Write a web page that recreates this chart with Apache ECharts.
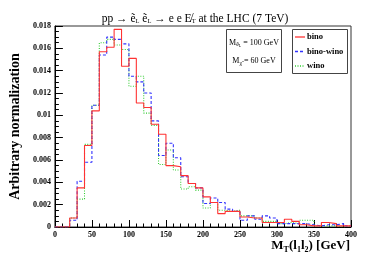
<!DOCTYPE html>
<html><head><meta charset="utf-8">
<script src="https://cdn.jsdelivr.net/npm/echarts@6/dist/echarts.min.js"></script>
<style>html,body{margin:0;padding:0;background:#fff}#c{width:390px;height:265px}</style>
</head><body><div id="c"></div>
<script>
var binLow = [0,10,20,30,40,50,60,70,80,90,100,110,120,130,140,150,160,170,180,190,200,210,220,230,240,250,260,270,280,290,300,310,320,330,340,350,360,370,380,390];
var binHighEnd = 400;
var bino = [0,0,0.0008,0.0035,0.0073,0.0104,0.0157,0.0161,0.0177,0.0144,0.0151,0.0111,0.0107,0.0092,0.0083,0.0055,0.0054,0.0046,0.0039,0.0035,0.0027,0.0022,0.0012,0.0014,0.0014,0.0009,0.0008,0.0008,0.0004,0.0004,0.0004,0.0007,0.0005,0.0002,0.0001,0.0001,0.0004,0.0003,0.0001,0.0001];
var binoWino = [0,0,0.0006,0.0041,0.0058,0.0109,0.0154,0.0170,0.0168,0.0164,0.0135,0.0130,0.0120,0.0095,0.0064,0.0075,0.0062,0.0045,0.0039,0.0035,0.0021,0.0026,0.0022,0.0016,0.0014,0.0006,0.0010,0.0007,0.0010,0.0008,0.0003,0.0003,0.0003,0.0003,0.0002,0.0001,0.0002,0.0002,0.0003,0.0001];
var wino = [0,0,0.0008,0.0025,0.0074,0.0109,0.0165,0.0168,0.0163,0.0159,0.0126,0.0135,0.0102,0.0091,0.0056,0.0069,0.0051,0.0034,0.0036,0.0033,0.0017,0.0022,0.0015,0.0014,0.0015,0.0010,0.0010,0.0008,0.0005,0.0005,0.0003,0.0004,0.0003,0.0006,0.0006,0.0001,0.0001,0.0001,0.0000,0.0001];
var seriesNames = ['bino','bino-wino','wino'];
var seriesColors = ['#ff3333','#3333ff','#33cc33'];
var seriesDash = ['solid',[3,2],[1,1.5]];
var xTicks = [0,50,100,150,200,250,300,350,400];
var yTicks = ['0','0.002','0.004','0.006','0.008','0.01','0.012','0.014','0.016','0.018'];

function histData(vals){
  var d = [];
  for (var i=0;i<binLow.length;i++) d.push([binLow[i], vals[i]]);
  d.push([binHighEnd, vals[vals.length-1]]);
  return d;
}
var serif = '"Liberation Serif","DejaVu Serif",serif';
var graphics = [
  {type:'rect',shape:{x:226.5,y:29.5,width:55,height:43},style:{fill:'#fff',stroke:'#444',lineWidth:1},z:10},
  {type:'text',x:254,y:37,z:11,style:{text:'M{s|\u1EBD}{ss|L} = 100 GeV',align:'center',fontFamily:serif,fontSize:8,fill:'#000',
    rich:{s:{fontFamily:serif,fontSize:6,padding:[4,0,0,0]},ss:{fontFamily:serif,fontSize:4,padding:[7,0,0,0]}}}},
  {type:'text',x:254,y:56,z:11,style:{text:'M{s|\u03C7\u0303} = 60 GeV',align:'center',fontFamily:serif,fontSize:8,fill:'#000',
    rich:{s:{fontFamily:serif,fontSize:6,padding:[4,0,0,0]}}}},
  {type:'rect',shape:{x:292.5,y:29.5,width:55,height:44},style:{fill:'#fff',stroke:'#444',lineWidth:1},z:10},
  {type:'text',x:350,y:238,z:11,style:{text:'M{s|T}(l{s|1}l{s|2}) [GeV]',align:'right',fontFamily:serif,fontSize:13,fontWeight:'bold',fill:'#000',
    rich:{s:{fontFamily:serif,fontSize:8,fontWeight:'bold',padding:[8,0,0,0]}}}}
];
for (var k=0;k<seriesNames.length;k++){
  var yy = 37 + k*14.5;
  var st = {stroke:seriesColors[k],lineWidth:1.3};
  if (seriesDash[k] !== 'solid') st.lineDash = seriesDash[k];
  graphics.push({type:'line',z:12,shape:{x1:295,y1:yy,x2:305,y2:yy},style:st});
  graphics.push({type:'text',z:11,x:307,y:yy,style:{text:seriesNames[k],fontFamily:serif,fontSize:8.5,fontWeight:'bold',fill:'#000',verticalAlign:'middle'}});
}
var chart = echarts.init(document.getElementById('c'));
chart.setOption({
  animation:false,
  backgroundColor:'#fff',
  title:{
    text:'pp \u2192 \u1EBD{s|L} \u1EBD{s|L} \u2192 e e E\u0338{s|T} at the LHC (7 TeV)',
    left:190, textAlign:'center', top:7,
    textStyle:{fontFamily:serif,fontSize:11.5,fontWeight:'normal',color:'#000',
      rich:{s:{fontFamily:serif,fontSize:6.5,padding:[6,0,0,0],color:'#000'}}}
  },
  grid:{left:49,right:39,top:26,bottom:38,show:true,borderColor:'#333',borderWidth:1},
  xAxis:{
    type:'value', min:0, max:400, interval:50,
    axisLine:{lineStyle:{color:'#000'}},
    axisTick:{inside:true,length:7,lineStyle:{color:'#000'}},
    minorTick:{show:true,splitNumber:5,length:3.5,lineStyle:{color:'#000'}},
    splitLine:{show:false},
    axisLabel:{fontFamily:serif,fontSize:8,fontWeight:'bold',color:'#000',margin:4,
      formatter:function(v){return String(xTicks[xTicks.indexOf(v)]);}}
  },
  yAxis:{
    type:'value', min:0, max:0.018, interval:0.002,
    name:'Arbitrary normalization', nameLocation:'middle', nameGap:30, nameRotate:90,
    nameTextStyle:{fontFamily:serif,fontSize:14,fontWeight:'bold',color:'#000'},
    axisLine:{show:true,lineStyle:{color:'#000'}},
    axisTick:{show:true,inside:true,length:8,lineStyle:{color:'#000'}},
    minorTick:{show:true,splitNumber:4,length:4,lineStyle:{color:'#000'}},
    splitLine:{show:false},
    axisLabel:{fontFamily:serif,fontSize:8,fontWeight:'bold',color:'#000',margin:4,
      formatter:function(v){return yTicks[Math.round(v/0.002)];}}
  },
  series:[
    {name:seriesNames[0],type:'line',step:'end',symbol:'none',data:histData(bino),
     lineStyle:{color:seriesColors[0],width:1.1,type:seriesDash[0]},z:4},
    {name:seriesNames[1],type:'line',step:'end',symbol:'none',data:histData(binoWino),
     lineStyle:{color:seriesColors[1],width:1.1,type:seriesDash[1]},z:3},
    {name:seriesNames[2],type:'line',step:'end',symbol:'none',data:histData(wino),
     lineStyle:{color:seriesColors[2],width:1.1,type:seriesDash[2]},z:2}
  ],
  graphic:graphics
});
</script></body></html>
